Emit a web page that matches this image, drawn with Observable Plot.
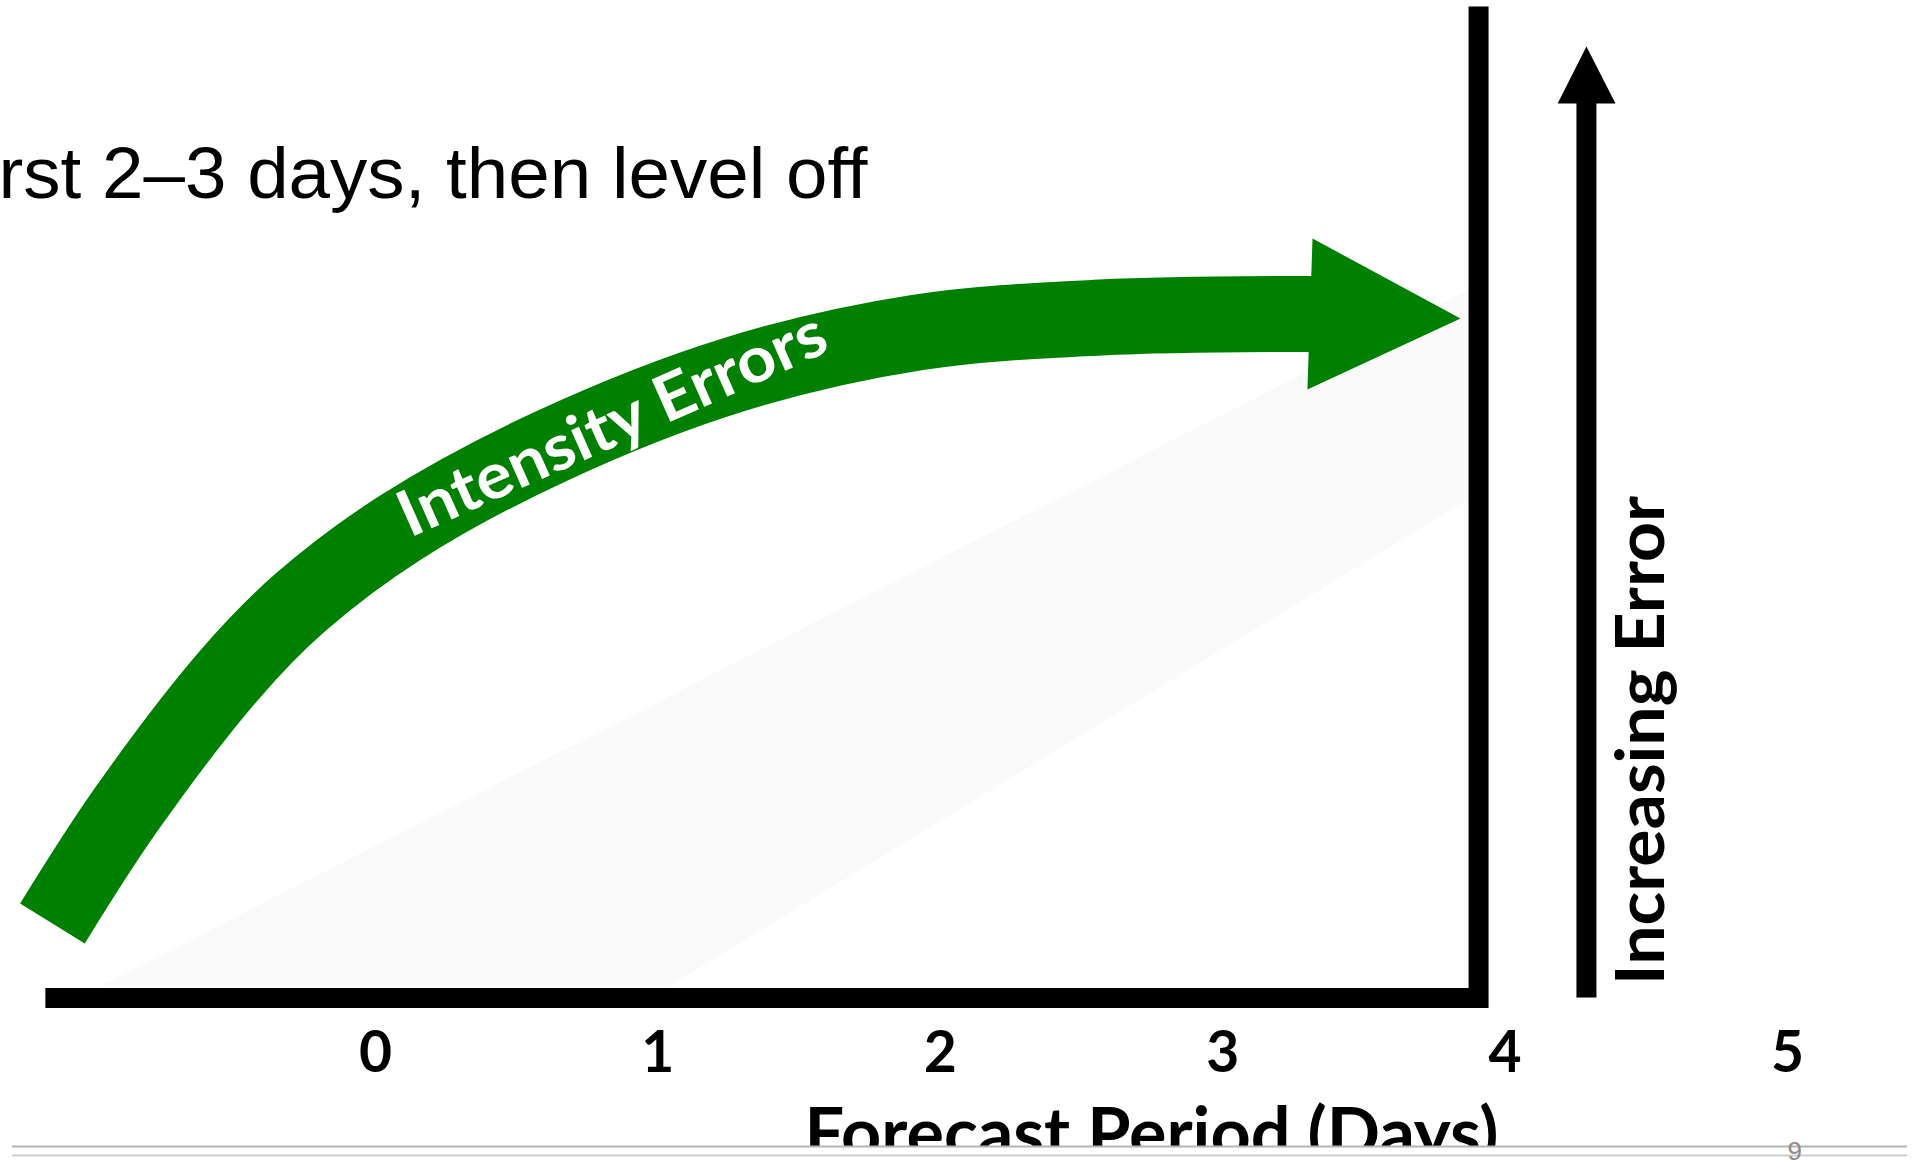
<!DOCTYPE html>
<html><head><meta charset="utf-8">
<script src="https://cdn.jsdelivr.net/npm/d3@7"></script>
<script src="https://cdn.jsdelivr.net/npm/@observablehq/plot@0.6"></script>
<style>html,body{margin:0;padding:0;background:#fff;overflow:hidden}</style>
</head><body><div id="chart"></div>
<script>
// ---- data (x in forecast days, y in relative error units) ----
const tickDays = [0, 1, 2, 3, 4, 5];
const curveDay   = [-1.144, -0.885, -0.513, -0.266, 0.089, 0.620, 1.271, 1.919, 2.567, 3.330];
const curveError = [7.42, 18.76, 32.50, 39.62, 47.14, 55.27, 62.49, 66.70, 68.20, 68.56];
const headDay   = [3.318, 3.842, 3.300];
const headError = [76.13, 68.10, 60.98];
const frameDay   = [-1.169, 3.906, 3.906];
const frameError = [-0.05, -0.05, 99.4];
const riseDay   = [4.288, 4.288];
const riseError = [0, 90.5];
const riseHeadDay   = [4.186, 4.288, 4.391];
const riseHeadError = [89.67, 95.39, 89.67];
const shadeDay   = [-0.974, 3.863, 3.863, 1.045];
const shadeError = [1.2, 70.9, 49.85, 1.2];
const titleText = "rst 2–3 days, then level off";
const curveLabel = "Intensity Errors";
const axisTitle = "Forecast Period (Days)";
const sideLabel = "Increasing Error";
const pageNumber = "9";

const pts = (xs, ys) => xs.map((x, i) => ({x, y: ys[i]}));
const GREEN = "#008000";

const chart = Plot.plot({
  width: 1917,
  height: 1168,
  marginTop: 0, marginRight: 0, marginLeft: 0, marginBottom: 171,
  style: {background: "white", color: "black", fontFamily: "Lato"},
  x: {domain: [-1.3279, 5.4603]},
  y: {domain: [0, 100], axis: null},
  marks: [
    // faint background shading
    Plot.line(pts(shadeDay, shadeError), {x: "x", y: "y", fill: "#fafafa", stroke: "none"}),
    // green curved arrow
    Plot.line(pts(curveDay, curveError), {x: "x", y: "y", stroke: GREEN, strokeWidth: 76,
      curve: "catmull-rom", strokeLinecap: "butt", strokeLinejoin: "round"}),
    Plot.line(pts(headDay, headError), {x: "x", y: "y", fill: GREEN, stroke: "none"}),
    Plot.text([curveLabel], {x: 0.839, y: 57.4, text: d => d, rotate: -24, fill: "white",
      fontSize: 64, fontWeight: "bold", fontFamily: "Lato", textAnchor: "middle", lineAnchor: "middle"}),
    // black L frame
    Plot.line(pts(frameDay, frameError), {x: "x", y: "y", stroke: "black", strokeWidth: 20,
      strokeLinejoin: "miter", strokeMiterlimit: 4, strokeLinecap: "butt"}),
    // increasing error arrow
    Plot.line(pts(riseDay, riseError), {x: "x", y: "y", stroke: "black", strokeWidth: 20, strokeLinecap: "butt"}),
    Plot.line(pts(riseHeadDay, riseHeadError), {x: "x", y: "y", fill: "black", stroke: "none"}),
    Plot.text([sideLabel], {x: 4.487, y: 25.78, text: d => d, rotate: -90, fill: "black",
      fontSize: 67, fontWeight: "bold", fontFamily: "Lato", textAnchor: "middle", lineAnchor: "middle"}),
    // title (cropped at the slide's left edge, as in the source)
    Plot.text([titleText], {x: -1.335, y: 80.24, text: d => d, textAnchor: "start", lineAnchor: "bottom",
      fontSize: 72, fontFamily: "Liberation Sans", fill: "black"}),
    // x axis tick labels
    Plot.axisX({ticks: tickDays, tickSize: 0, tickPadding: 34, fontSize: 57, fontWeight: "bold",
      fontFamily: "Lato", label: null, tickFormat: d => String(d)}),
    // x axis title
    Plot.text([axisTitle], {x: 2.748, y: -16.05, text: d => d, textAnchor: "middle", lineAnchor: "bottom",
      fontSize: 70, fontWeight: "bold", fontFamily: "Lato", fill: "black"}),
    // slide footer cover + rules
    Plot.rect([0], {x1: -1.3279, x2: 5.4603, y1: -15.05, y2: -17.2, fill: "white"}),
    Plot.ruleY([-14.95], {x1: -1.2855, x2: 5.425, stroke: "#b4b4b4", strokeWidth: 2}),
    Plot.ruleY([-15.85], {x1: -1.2855, x2: 5.425, stroke: "#cfcfcf", strokeWidth: 2}),
    Plot.text([pageNumber], {x: 5.0, y: -16.3, text: d => d, textAnchor: "start", lineAnchor: "bottom",
      fontSize: 26, fontFamily: "Liberation Sans", fill: "#8c8c8c"})
  ]
});

const lengths = {};
lengths[titleText] = 869;
lengths[sideLabel] = 489;
lengths[axisTitle] = 694;
lengths[curveLabel] = 462;
d3.select(chart).selectAll("text").each(function () {
  const t = this.textContent;
  if (lengths[t]) {
    this.setAttribute("textLength", lengths[t]);
    this.setAttribute("lengthAdjust", "spacingAndGlyphs");
  }
});
document.getElementById("chart").appendChild(chart);
</script>
</body></html>
